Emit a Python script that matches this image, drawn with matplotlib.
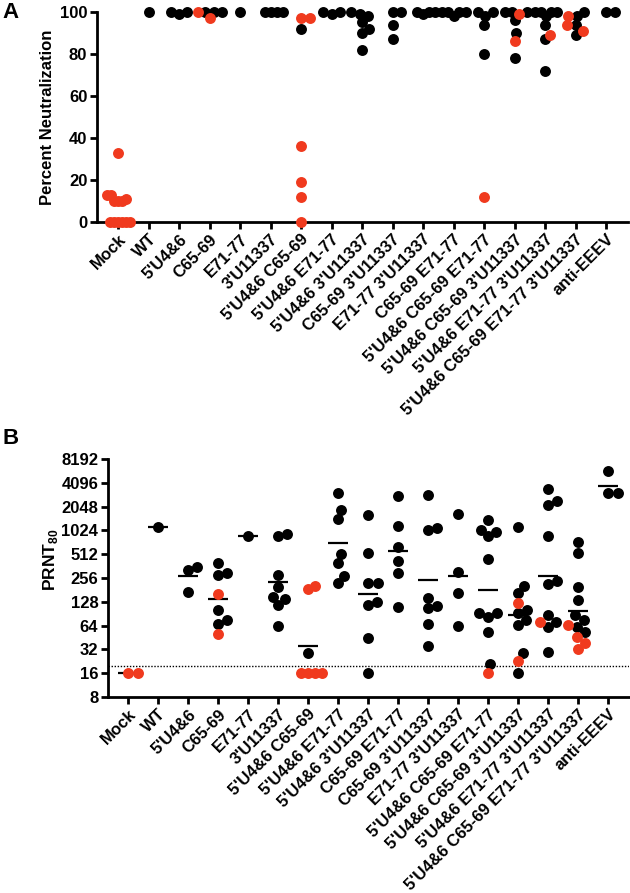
import numpy as np
import matplotlib
matplotlib.use("Agg")
import matplotlib.pyplot as plt
from matplotlib.ticker import FixedLocator, NullLocator, NullFormatter

plt.rcParams['font.family'] = ['Liberation Sans', 'DejaVu Sans']
plt.rcParams['font.weight'] = 'bold'
plt.rcParams['mathtext.fontset'] = 'custom'
plt.rcParams['mathtext.rm'] = 'Liberation Sans:bold'
plt.rcParams['mathtext.bf'] = 'Liberation Sans:bold'

# ---------------- data ----------------
cats_a = ["Mock", "WT", "5'U4&6", "C65-69", "E71-77", "3'U11337",
          "5'U4&6 C65-69", "5'U4&6 E71-77", "5'U4&6 3'U11337",
          "C65-69 3'U11337", "E71-77 3'U11337", "C65-69 E71-77",
          "5'U4&6 C65-69 E71-77", "5'U4&6 C65-69 3'U11337",
          "5'U4&6 E71-77 3'U11337", "5'U4&6 C65-69 E71-77 3'U11337",
          "anti-EEEV"]
cats_b = ["Mock", "WT", "5'U4&6", "C65-69", "E71-77", "3'U11337",
          "5'U4&6 C65-69", "5'U4&6 E71-77", "5'U4&6 3'U11337",
          "C65-69 E71-77", "C65-69 3'U11337", "E71-77 3'U11337",
          "5'U4&6 C65-69 E71-77", "5'U4&6 C65-69 3'U11337",
          "5'U4&6 E71-77 3'U11337", "5'U4&6 C65-69 E71-77 3'U11337",
          "anti-EEEV"]

# Panel A: percent neutralization
a_black = [
    [],
    [100],
    [100, 100, 99],
    [100, 100, 100],
    [100],
    [100, 100, 100, 100],
    [92],
    [100, 100, 99],
    [100, 99, 98, 95, 92, 90, 82],
    [100, 100, 94, 87],
    [100, 100, 99, 100],
    [100, 100, 100, 100, 98],
    [100, 100, 98, 94, 80],
    [100, 100, 100, 96, 90, 78],
    [100, 100, 100, 100, 98, 94, 87, 72],
    [100, 98, 94, 89],
    [100, 100],
]
a_red = [
    [0, 0, 0, 0, 0, 0, 10, 10, 10, 11, 13, 13, 33],
    [], [], [100, 97], [], [],
    [97, 97, 36, 19, 12, 0],
    [], [], [], [], [],
    [12],
    [99, 86],
    [89],
    [98, 94, 91],
    [],
]

# Panel B: PRNT80 titers
b_black = [
    [],
    [1140],
    [355, 323, 172],
    [393, 294, 280, 101, 75, 67],
    [880],
    [915, 880, 280, 198, 146, 137, 115, 64],
    [29],
    [3060, 1860, 1430, 512, 393, 274, 220],
    [1610, 525, 220, 220, 115, 126, 44, 16],
    [2800, 1180, 640, 424, 294, 111],
    [2870, 1090, 1040, 141, 106, 113, 67, 35],
    [1650, 308, 167, 64],
    [1390, 1040, 990, 870, 445, 83, 92, 93, 53, 21],
    [1140, 202, 164, 101, 92, 76, 66, 29, 16],
    [3400, 2150, 2430, 870, 215, 237, 87, 72, 62, 30],
    [724, 525, 198, 135, 87, 76, 62, 53],
    [5830, 3020, 3020],
]
b_red = [
    [16, 16],
    [], [],
    [161, 50],
    [], [],
    [186, 200, 16, 16, 16, 16],
    [], [], [], [], [],
    [16],
    [123, 23],
    [72],
    [65, 46, 39, 32],
    [],
]
b_ticks = [8, 16, 32, 64, 128, 256, 512, 1024, 2048, 4096, 8192]
detection_limit = 20

RED = '#f03a1e'
W, H = 630, 893
FS = 12

fig = plt.figure(figsize=(W / 100, H / 100), dpi=100)
axA = fig.add_axes([97 / W, 1 - 222 / H, (628 - 97) / W, 210 / H])
axB = fig.add_axes([108 / W, 1 - 697 / H, (629 - 108) / W, 238 / H])


def swarm(ypix, d, maxw):
    order = np.argsort(ypix, kind='stable')
    placed = []
    xs = np.zeros(len(ypix))
    for idx in order:
        y = ypix[idx]
        cands = [0.0]
        for px, py in placed:
            dy = abs(py - y)
            if dy < d:
                dx = np.sqrt(d * d - dy * dy)
                cands += [px + dx, px - dx]
        cands = sorted(cands, key=lambda c: (abs(c), -c))
        chosen = 0.0
        for c in cands:
            if all((c - px) ** 2 + (y - py) ** 2 >= d * d - 1e-6 for px, py in placed):
                chosen = c
                break
        xs[idx] = chosen
        placed.append((chosen, y))
    m = np.max(np.abs(xs)) if len(xs) else 0
    if m > maxw:
        xs *= maxw / m
    return xs


def draw_groups(ax, blacks, reds, d, maxw):
    x0, x1 = ax.get_xlim()
    wpx = ax.get_window_extent().width
    ppu = wpx / (x1 - x0)
    for i, (bl, rd) in enumerate(zip(blacks, reds)):
        vals = list(bl) + list(rd)
        if not vals:
            continue
        cols = ['black'] * len(bl) + [RED] * len(rd)
        ypix = ax.transData.transform(np.column_stack([np.full(len(vals), i), vals]))[:, 1]
        offs = swarm(ypix, d, maxw) / ppu
        xs = i + offs
        vals = np.array(vals, float)
        for col in ['black', RED]:
            m = np.array([c == col for c in cols])
            if m.any():
                ax.scatter(xs[m], vals[m], s=62, c=col, linewidths=0,
                           zorder=3, clip_on=False)


def style(ax):
    for s in ['top', 'right']:
        ax.spines[s].set_visible(False)
    for s in ['left', 'bottom']:
        ax.spines[s].set_linewidth(2.0)
    ax.tick_params(axis='both', which='major', direction='out', length=5,
                   width=2.0, labelsize=12, pad=2)
    ax.tick_params(axis='x', pad=2)


# ---------- Panel A ----------
axA.set_xlim(-0.69, 16.72)
axA.set_ylim(0, 100)
style(axA)
axA.set_yticks([0, 20, 40, 60, 80, 100])
axA.set_xticks(range(len(cats_a)))
axA.set_xticklabels(cats_a, rotation=45, ha='right', rotation_mode='anchor',
                    fontsize=FS, fontweight='bold')
draw_groups(axA, a_black, a_red, d=8.5, maxw=12)
fig.text(48 / W, 1 - 117 / H, 'Percent Neutralization', rotation=90,
         ha='center', va='center', fontsize=12, fontweight='bold')

# ---------- Panel B ----------
axB.set_yscale('log', base=2)
axB.set_xlim(-0.667, 16.7)
axB.set_ylim(8, 8192)
style(axB)
axB.yaxis.set_major_locator(FixedLocator(b_ticks))
axB.yaxis.set_minor_locator(NullLocator())
axB.yaxis.set_minor_formatter(NullFormatter())
axB.set_yticklabels([str(t) for t in b_ticks])
axB.set_xticks(range(len(cats_b)))
axB.set_xticklabels(cats_b, rotation=45, ha='right', rotation_mode='anchor',
                    fontsize=FS, fontweight='bold')
axB.axhline(detection_limit, color='black', lw=1.0, ls=(0, (1, 1.2)), zorder=1)
draw_groups(axB, b_black, b_red, d=9.5, maxw=14)
for i, (bl, rd) in enumerate(zip(b_black, b_red)):
    vals = np.array(list(bl) + list(rd), float)
    if len(vals):
        gm = np.exp(np.mean(np.log(vals)))
        axB.plot([i - 0.33, i + 0.33], [gm, gm], color='black', lw=1.6,
                 zorder=2, solid_capstyle='butt')
fig.text(50 / W, 1 - 560 / H, r'PRNT$_{80}$', rotation=90,
         ha='center', va='center', fontsize=12.5, fontweight='bold')

# panel letters
fig.text(2 / W, 1 - 12 / H, 'A', fontsize=16, fontweight='bold', ha='left', va='center')
fig.text(2 / W, 1 - 438 / H, 'B', fontsize=16, fontweight='bold', ha='left', va='center')

fig.savefig('out.png', dpi=100)
